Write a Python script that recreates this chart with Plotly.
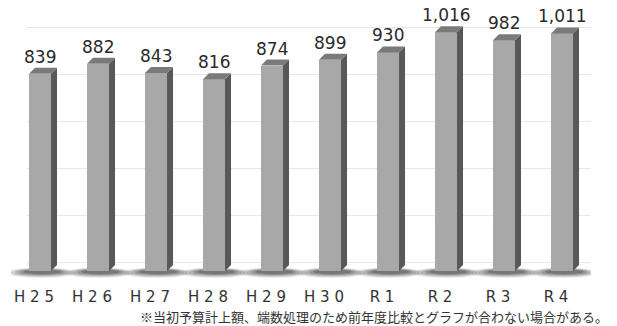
import plotly.graph_objects as go

# Fiscal years and initial budget amounts
years = ["H25", "H26", "H27", "H28", "H29", "H30", "R1", "R2", "R3", "R4"]
amounts = [839, 882, 843, 816, 874, 899, 930, 1016, 982, 1011]
grid_values = [0, 200, 400, 600, 800, 1000]
note = "※当初予算計上額、端数処理のため前年度比較とグラフが合わない場合がある。"

# Page / plot geometry (pixels)
W, H = 617, 326
M_L, M_R, M_T, M_B = 11, 26, 10, 43
plot_w = W - M_L - M_R
plot_h = H - M_T - M_B
PX_PER_UNIT = 0.235
FLOOR_PX = 12                         # room below the bar bases for the floor shadow
Y_MIN = -FLOOR_PX / PX_PER_UNIT
Y_MAX = Y_MIN + plot_h / PX_PER_UNIT
px_x = plot_w / len(years)            # pixels per category
px_y = PX_PER_UNIT                    # pixels per unit

BAR_W = 0.38                          # front face width, category units
DEPTH_X = 6 / px_x                    # 3D depth offset, to the right
DEPTH_Y = 6 / px_y                    # 3D depth offset, upwards

FRONT = "#a8a8a8"
SIDE = "#585858"
TOP = "#7a7a7a"

fig = go.Figure()
fig.add_trace(go.Bar(
    x=list(range(len(years))), y=amounts, width=BAR_W,
    marker=dict(color=FRONT, line=dict(width=0)),
    hoverinfo="skip", showlegend=False,
))

shapes = []

# back-wall gridlines
for g in grid_values:
    yv = g + DEPTH_Y * 1.4
    shapes.append(dict(type="line", xref="x", yref="y", layer="below",
                       x0=-0.5 + 16 / px_x, x1=9.5 + 13 / px_x, y0=yv, y1=yv,
                       line=dict(color="#e6e6e6", width=1)))

# floor edge
shapes.append(dict(type="line", xref="x", yref="y", layer="below",
                   x0=-0.5 + 4 / px_x, x1=9.5 + 13 / px_x, y0=-3 / px_y, y1=-3 / px_y,
                   line=dict(color="#e8e8e8", width=1)))

for i, v in enumerate(amounts):
    xl = i - BAR_W / 2
    xr = i + BAR_W / 2
    # soft floor shadow, stacked ellipses fading outwards
    for k, op in enumerate([0.10, 0.14, 0.18, 0.24, 0.30]):
        spread = (22 - 4 * k) / px_x
        hgt = (7 - k) / px_y
        shapes.append(dict(type="circle", xref="x", yref="y", layer="below",
                           x0=xl - spread, x1=xr + DEPTH_X + spread * 0.8,
                           y0=-hgt, y1=hgt * 0.5,
                           fillcolor="rgba(50,50,50,%.2f)" % op, line=dict(width=0)))
    # right side face
    shapes.append(dict(type="path", xref="x", yref="y",
                       path=f"M {xr} 0 L {xr} {v} L {xr + DEPTH_X} {v + DEPTH_Y} "
                            f"L {xr + DEPTH_X} {DEPTH_Y} Z",
                       fillcolor=SIDE, line=dict(width=0)))
    # top face
    shapes.append(dict(type="path", xref="x", yref="y",
                       path=f"M {xl} {v} L {xr} {v} L {xr + DEPTH_X} {v + DEPTH_Y} "
                            f"L {xl + DEPTH_X} {v + DEPTH_Y} Z",
                       fillcolor=TOP, line=dict(width=0)))

annotations = []
for i, v in enumerate(amounts):
    annotations.append(dict(x=i, y=v, xref="x", yref="y", text=f"{v:,}",
                            showarrow=False, yanchor="bottom", yshift=5,
                            font=dict(family="DejaVu Sans", size=17, color="#2a2a2a")))

annotations.append(dict(x=(610 - M_L) / plot_w, y=(H - M_B - 316) / plot_h,
                        xref="paper", yref="paper", text=note, showarrow=False,
                        xanchor="right", yanchor="middle",
                        font=dict(family="Noto Sans CJK JP", size=13, color="#333333")))

fig.update_layout(
    width=W, height=H,
    margin=dict(l=M_L, r=M_R, t=M_T, b=M_B),
    paper_bgcolor="white", plot_bgcolor="white",
    shapes=shapes, annotations=annotations,
    bargap=0,
    xaxis=dict(
        range=[-0.5, len(years) - 0.5],
        tickmode="array", tickvals=list(range(len(years))),
        ticktext=[" ".join(list(y)) for y in years],
        tickfont=dict(family="DejaVu Sans", size=15, color="#333333"),
        ticklabelshift=-6, ticklabelstandoff=3,
        showgrid=False, zeroline=False, showline=False, ticks="",
    ),
    yaxis=dict(range=[Y_MIN, Y_MAX], visible=False, showgrid=False, zeroline=False),
)

fig.write_html("out.html")
